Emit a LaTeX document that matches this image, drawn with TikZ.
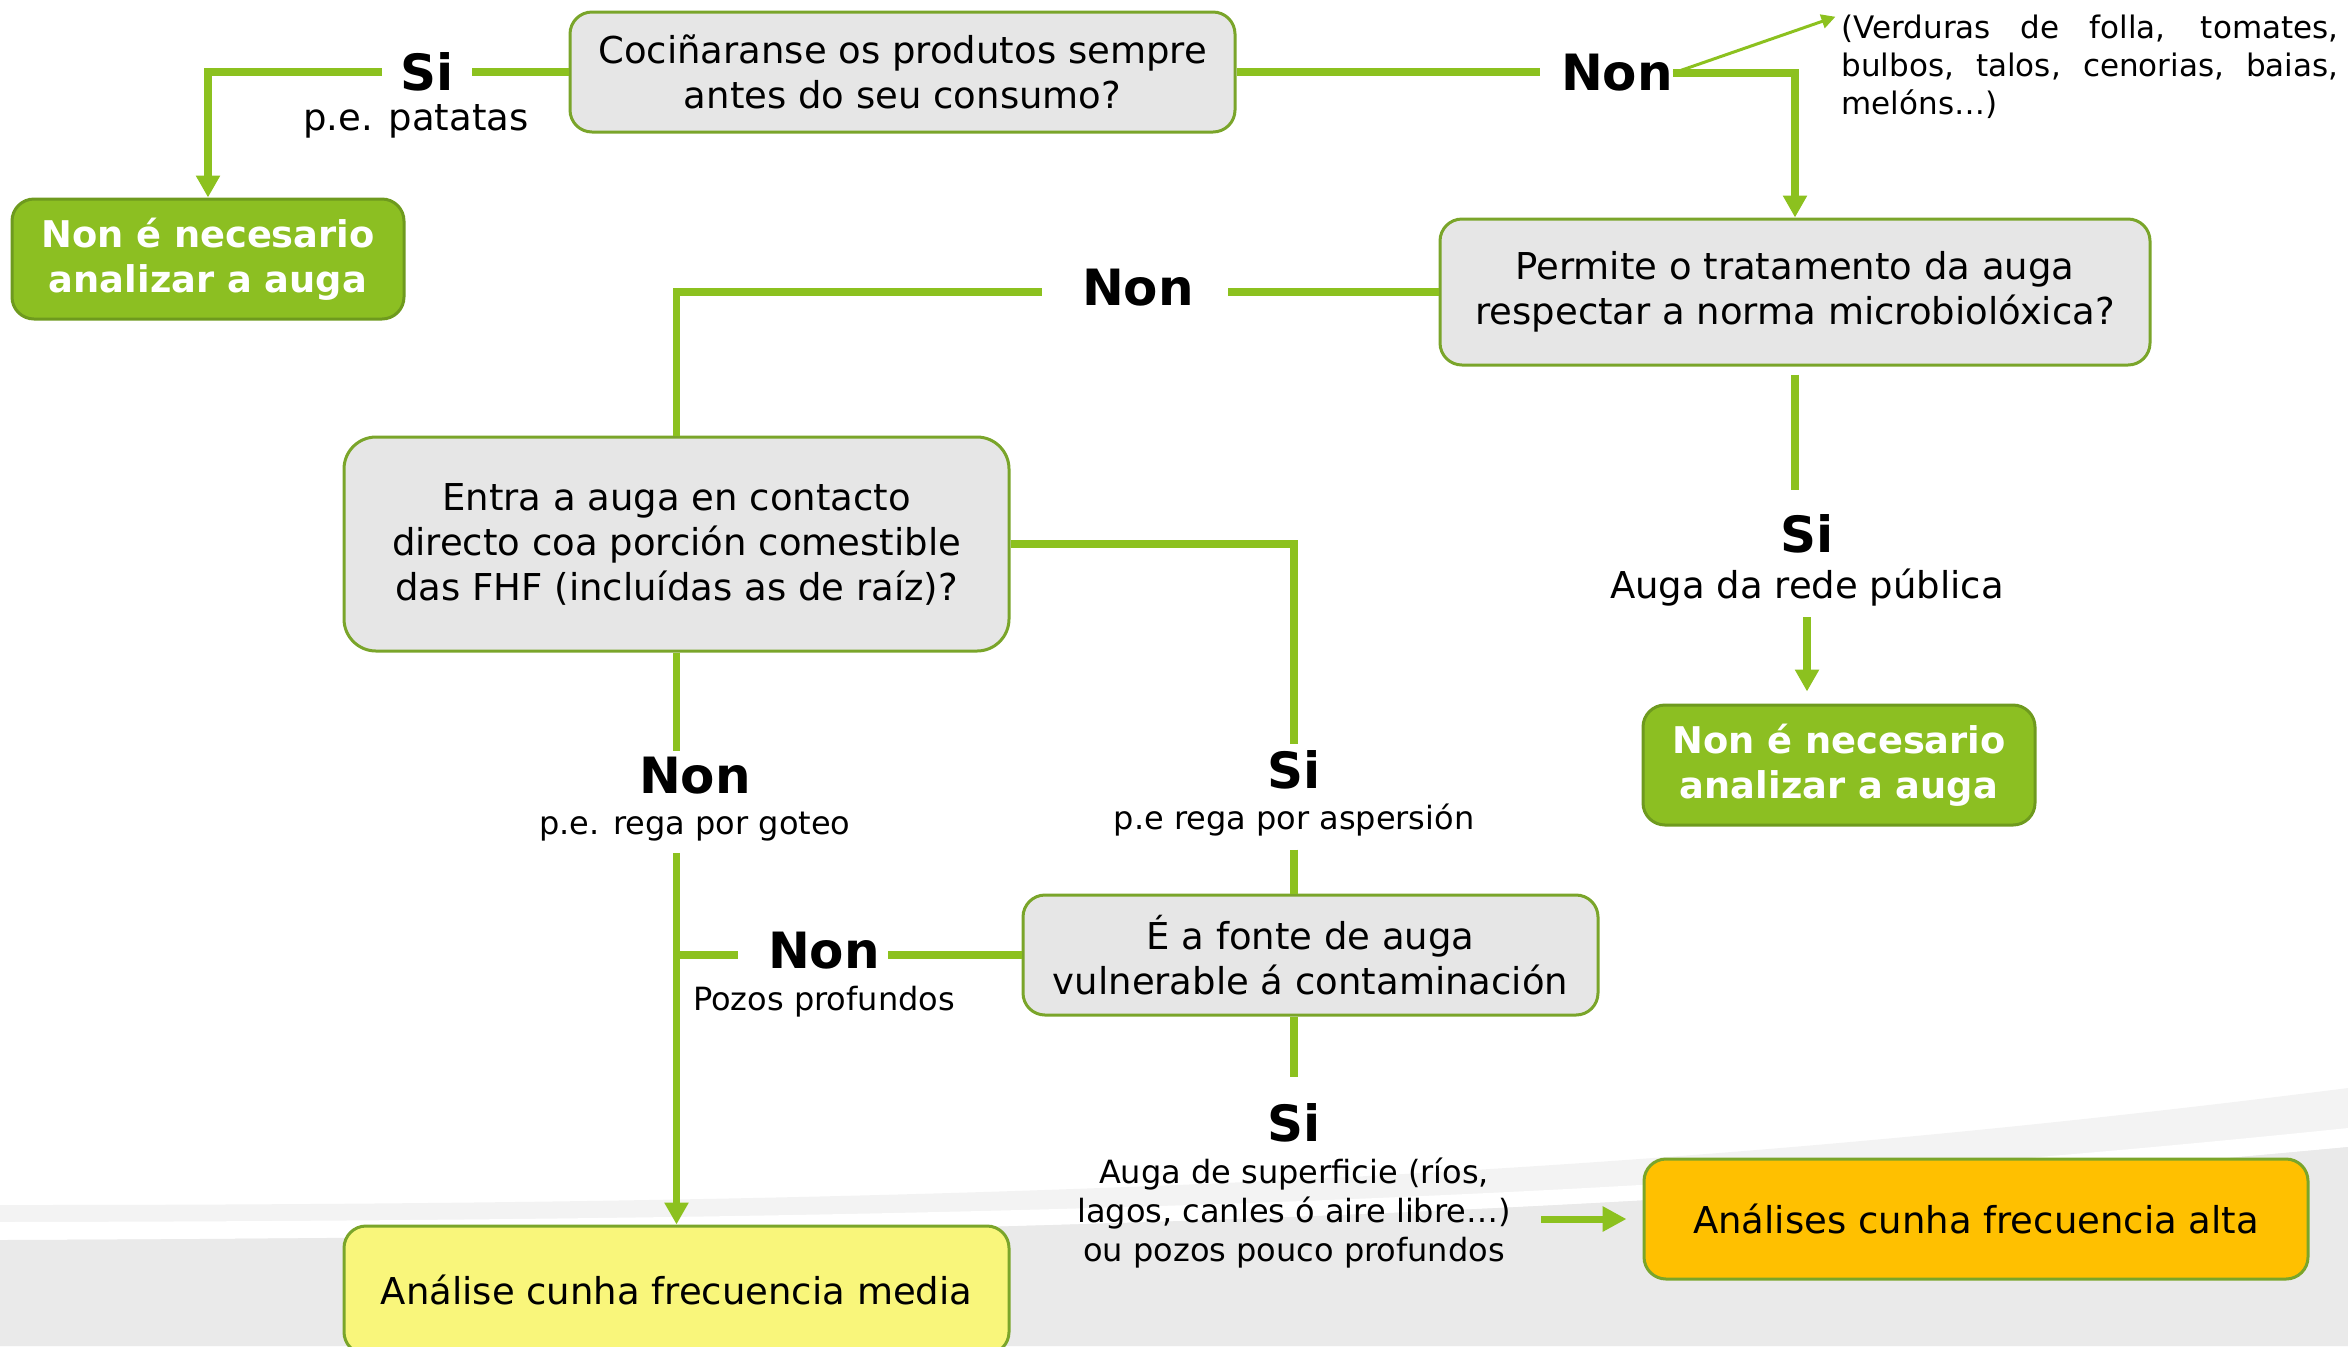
\documentclass[tikz,border=0pt]{standalone}
\usepackage{fontspec}
\setmainfont{DejaVu Sans}
\usepackage{tikz}
\usetikzlibrary{calc,arrows.meta}
\definecolor{lgreen}{HTML}{8CC11F}
\definecolor{qedge}{HTML}{7AA52A}
\definecolor{qfill}{HTML}{E6E6E6}
\definecolor{okfill}{HTML}{8CBF22}
\definecolor{okedge}{HTML}{6E9A1E}
\definecolor{medfill}{HTML}{F9F67B}
\definecolor{highfill}{HTML}{FFC000}
\definecolor{bglight}{HTML}{F3F3F3}
\definecolor{bgdark}{HTML}{EAEAEA}
\newcommand{\qfont}{\fontsize{18.5pt}{22.5pt}\selectfont}
\newcommand{\okfont}{\fontsize{18.4pt}{22.5pt}\selectfont\bfseries}
\newcommand{\ansfont}{\fontsize{25pt}{30pt}\selectfont\bfseries}
\newcommand{\hintfont}{\fontsize{16pt}{19.5pt}\selectfont}
\newcommand{\notefnt}{\fontsize{15.5pt}{19pt}\selectfont}

\begin{document}
\begin{tikzpicture}[x=0.5pt,y=-0.5pt,
    >={Triangle[width=11.5pt,length=11pt]},
    conn/.style={draw=lgreen,line width=3.9pt},
    question/.style={draw=qedge,fill=qfill,line width=1.5pt,rounded corners=11pt,
      align=center,inner sep=0pt,font=\qfont},
    okbox/.style={draw=okedge,fill=okfill,line width=1.5pt,rounded corners=11pt,
      align=center,inner sep=0pt,text=white,font=\okfont,
      minimum width=196pt,minimum height=60pt},
    answer/.style={inner sep=0pt,font=\ansfont},
    hint/.style={inner sep=0pt,align=center,font=\hintfont}]
              \useasboundingbox (0,0) rectangle (2348,1346);
              \clip (0,0) rectangle (2348,1346);
              % background band
              \fill[bglight] (0,1205) .. controls (1100,1205) and (1700,1170) .. (2348,1088)
                -- (2348,1346) -- (0,1346) -- cycle;
              \fill[white] (0,1222) .. controls (1100,1220) and (1700,1195) .. (2348,1128)
                -- (2348,1147) .. controls (1700,1208) and (1100,1236) .. (0,1240) -- cycle;
              \fill[bgdark] (0,1240) .. controls (1100,1236) and (1700,1208) .. (2348,1147)
                -- (2348,1346) -- (0,1346) -- cycle;

              % boxes
              \node[question,minimum width=332.5pt,minimum height=60pt] (cook) at (902.5,72)
                {Cociñaranse os produtos sempre\\antes do seu consumo?};
              \node[okbox] (noneed1) at (208,259) {Non é necesario\\analizar a auga};
              \node[question,minimum width=355pt,minimum height=73pt] (treat) at (1795,292)
                {Permite o tratamento da auga\\respectar a norma microbiolóxica?};
              \node[question,minimum width=332.5pt,minimum height=107pt,rounded corners=16pt] (contact) at (676.5,544)
                {Entra a auga en contacto\\directo coa porción comestible\\das FHF (incluídas as de raíz)?};
              \node[okbox] (noneed2) at (1839,765) {Non é necesario\\analizar a auga};
              \node[question,minimum width=287.5pt,minimum height=60pt] (source) at (1310.5,955)
                {É a fonte de auga\\vulnerable á contaminación};
              \node[question,fill=medfill,minimum width=332.5pt,minimum height=64pt] (medium) at (676.5,1290)
                {Análise cunha frecuencia media};
              \node[question,fill=highfill,minimum width=332pt,minimum height=60pt] (high) at (1976,1219)
                {Análises cunha frecuencia alta};

              % answers
              \node[answer] (si1) at (427,72) {Si};
                \node[hint,font=\qfont] (si1txt) at (416,121) {p.e. patatas};
              \node[answer] (non1) at (1617,73) {Non};
              \node[inner sep=0pt,font=\notefnt,text width=248.5pt,align=justify] (veg) at (2090,67)
                {(Verduras de folla, tomates,\linebreak bulbos, talos, cenorias, baias,\linebreak melóns…)};
              \node[answer] (non2) at (1138,288) {Non};
              \node[answer] (si2) at (1807,534) {Si};
                \node[hint,font=\qfont] (si2txt) at (1807,588) {Auga da rede pública};
              \node[answer] (si3) at (1294,770) {Si};
                \node[hint] (si3txt) at (1294,820) {p.e rega por aspersión};
              \node[answer] (non3) at (695,776) {Non};
                \node[hint] (non3txt) at (695,827) {p.e. rega por goteo};
              \node[answer] (non4) at (824,951) {Non};
                \node[hint] (non4txt) at (824,1002) {Pozos profundos};
              \node[answer] (si4) at (1294,1123) {Si};
                \node[hint] (si4txt) at (1294,1213)
                  {Auga de superficie (ríos,\\lagos, canles ó aire libre…)\\ou pozos pouco profundos};

              % connectors
              \draw[conn,shorten >=9pt] (cook.west) -- (cook.west -| si1.east);
              \draw[conn,->,shorten <=9pt] (si1.west |- cook.west) -| (noneed1.north);
              \draw[conn,shorten >=10.5pt] (cook.east) -- (cook.east -| non1.west);
              \draw[conn,->] (non1.east) -| (treat.north);
              \draw[lgreen,line width=1.5pt,-{Triangle[width=7pt,length=7pt]},shorten >=3pt] (non1.east) -- (veg.north west);
              \draw[conn,shorten >=17pt] (treat.west) -- (treat.west -| non2.east);
              \draw[conn,shorten <=20pt] (non2.west |- treat.west) -| (contact.north);
              \draw[conn,shorten <=4pt,shorten >=12pt] (treat.south) -- (treat.south |- si2.north);
              \draw[conn,->,shorten <=5pt,shorten >=6pt] (si2txt.south) -- (si2txt.south |- noneed2.north);
              \draw[conn,shorten >=3pt] (contact.east) -| (si3.north);
              \draw[conn,shorten <=6.5pt] (si3txt.south) -- (si3txt.south |- source.north);
              \draw[conn,shorten >=3pt] (contact.south) -- (contact.south |- non3.north);
              \draw[conn,->,shorten <=5.5pt] (contact.south |- non3txt.south) -- (medium.north);
              \draw[conn,shorten >=4pt] (source.west) -- (source.west -| non4.east);
              \draw[conn,shorten <=15pt] (non4.west |- source.west) -- (contact.south |- source.west);
              \draw[conn,shorten >=13pt] (si4.north |- source.south) -- (si4.north);
              \draw[lgreen,line width=3.5pt,-{Triangle[width=12pt,length=12pt]},shorten <=15pt,shorten >=8pt]
                (si4txt.east |- high.west) -- (high.west);

            \end{tikzpicture}
\end{document}
